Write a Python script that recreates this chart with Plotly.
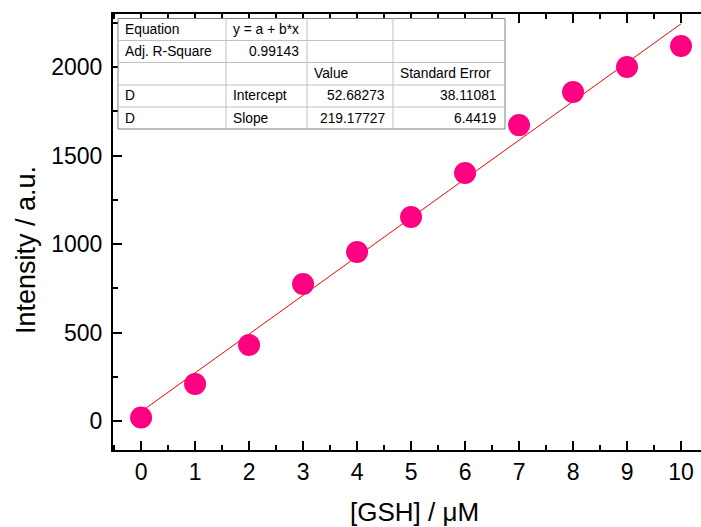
import plotly.graph_objects as go

conc = [0, 1, 2, 3, 4, 5, 6, 7, 8, 9, 10]
intensity = [20, 209, 429, 774, 955, 1153, 1401, 1672, 1859, 2000, 2119]
intercept = 52.68273
slope = 219.17727
fit_x = [0, 10]
fit_y = [intercept + slope * x for x in fit_x]

table_rows = [
    ["Equation", "y = a + b*x", "", ""],
    ["Adj. R-Square", "0.99143", "", ""],
    ["", "", "Value", "Standard Error"],
    ["D", "Intercept", "52.68273", "38.11081"],
    ["D", "Slope", "219.17727", "6.4419"],
]
table_align = [
    ["left", "left", "left", "left"],
    ["left", "right", "left", "left"],
    ["left", "left", "left", "left"],
    ["left", "left", "right", "right"],
    ["left", "left", "right", "right"],
]

FONT = "Liberation Sans, Arial, sans-serif"

# plot-area pixel geometry (for placing the table box and titles)
L, R, T, B = 113, 701, 14, 450
col_px = [118, 226, 307, 393, 505]
row_px = [18.5, 40.5, 62.5, 85, 107, 129]


def px_x(p):
    return (p - L) / (R - L)


def px_y(p):
    return (B - p) / (B - T)


fig = go.Figure()
fig.add_trace(go.Scatter(x=fit_x, y=fit_y, mode="lines",
                         line=dict(color="#ff0000", width=1), showlegend=False))
fig.add_trace(go.Scatter(x=conc, y=intensity, mode="markers",
                         marker=dict(color="#ff0080", size=22, line=dict(width=0)),
                         showlegend=False))

shapes = []
shapes.append(dict(type="rect", xref="paper", yref="paper",
                   x0=px_x(col_px[0]), x1=px_x(col_px[-1]),
                   y0=px_y(row_px[-1]), y1=px_y(row_px[0]),
                   fillcolor="white", line=dict(color="#808080", width=1),
                   layer="above"))
for c in col_px[1:-1]:
    shapes.append(dict(type="line", xref="paper", yref="paper",
                       x0=px_x(c), x1=px_x(c), y0=px_y(row_px[-1]), y1=px_y(row_px[0]),
                       line=dict(color="#c0c0c0", width=1), layer="above"))
for r in row_px[1:-1]:
    shapes.append(dict(type="line", xref="paper", yref="paper",
                       x0=px_x(col_px[0]), x1=px_x(col_px[-1]), y0=px_y(r), y1=px_y(r),
                       line=dict(color="#c0c0c0", width=1), layer="above"))

annotations = []
for i, row in enumerate(table_rows):
    yc = px_y((row_px[i] + row_px[i + 1]) / 2)
    for j, txt in enumerate(row):
        if not txt:
            continue
        al = table_align[i][j]
        xp = px_x(col_px[j] + 5) if al == "left" else px_x(col_px[j + 1] - 6)
        annotations.append(dict(text=txt, xref="paper", yref="paper", x=xp, y=yc,
                                xanchor=al, yanchor="middle", showarrow=False,
                                font=dict(family=FONT, size=13.8, color="black")))

# axis titles
annotations.append(dict(text="[GSH] / μM", xref="paper", yref="paper",
                        x=px_x(414), y=px_y(512), xanchor="center", yanchor="middle",
                        showarrow=False, font=dict(family=FONT, size=26, color="black")))
annotations.append(dict(text="Intensity / a.u.", xref="paper", yref="paper",
                        x=px_x(26), y=px_y(250), xanchor="center", yanchor="middle",
                        textangle=-90, showarrow=False,
                        font=dict(family=FONT, size=27, color="black")))

fig.update_layout(
    width=701, height=527,
    margin=dict(l=L, r=701 - R, t=T, b=527 - B),
    plot_bgcolor="white", paper_bgcolor="white",
    font=dict(family=FONT, color="black"),
    shapes=shapes, annotations=annotations,
    xaxis=dict(range=[-0.52, 10.37], tickvals=conc, ticks="inside", ticklen=9,
               tickwidth=1.5, tickcolor="black", showline=True, linecolor="black",
               linewidth=2, mirror="ticks", showgrid=False, zeroline=False,
               tickfont=dict(size=23),
               minor=dict(dtick=0.5, ticks="inside", ticklen=5, tickwidth=1.5,
                          tickcolor="black")),
    yaxis=dict(range=[-164, 2300], tickvals=[0, 500, 1000, 1500, 2000],
               ticks="inside", ticklen=9, tickwidth=1.5, tickcolor="black",
               showline=True, linecolor="black", linewidth=2, showgrid=False,
               zeroline=False, tickfont=dict(size=23), ticklabelstandoff=4,
               minor=dict(dtick=250, ticks="inside", ticklen=5, tickwidth=1.5,
                          tickcolor="black")),
)

fig.write_html("out.html")
